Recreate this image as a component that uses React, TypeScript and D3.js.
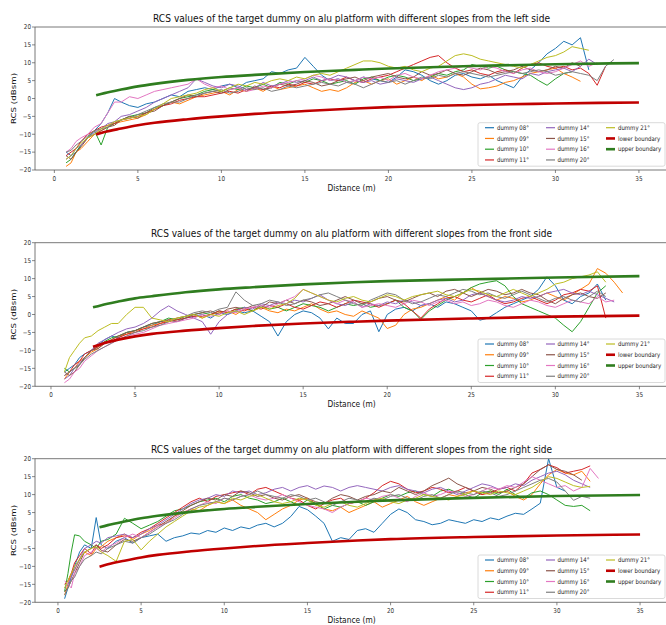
import React from "react";
import * as d3 from "d3";

// series labels and colours (matplotlib tab10 order, skipping cyan)
const names = ["dummy 08°", "dummy 09°", "dummy 10°", "dummy 11°", "dummy 14°", "dummy 15°", "dummy 16°", "dummy 20°", "dummy 21°"];
const colors = ["#1f77b4", "#ff7f0e", "#2ca02c", "#d62728", "#9467bd", "#8c564b", "#e377c2", "#7f7f7f", "#bcbd22"];
const lowerColor = "#c00000";
const upperColor = "#2f7d1f";

const xTicks = [0, 5, 10, 15, 20, 25, 30, 35];
const yTicks = [-20, -15, -10, -5, 0, 5, 10, 15, 20];

// distance samples (m)
const distSteps = [4, 4.5, 5, 5.5, 6, 6.5, 7, 7.5, 8, 8.5, 9, 9.5, 10, 10.5, 11, 11.5, 12, 12.5, 13, 13.5, 14, 14.5, 15, 15.5, 16, 16.5, 17, 17.5, 18, 18.5, 19, 19.5, 20, 20.5, 21, 21.5, 22, 22.5, 23, 23.5, 24, 24.5, 25, 25.5, 26, 26.5, 27, 27.5, 28, 28.5, 29, 29.5, 30, 30.5, 31, 31.5, 32, 32.5, 33, 33.5, 34];
const gridLeft = [0.7, 1, 1.3, 1.6, 2, 2.4, 2.8, 3.2, 3.6, ...distSteps];
const gridFront = [0.8, 1.1, 1.4, 1.7, 2, 2.4, 2.8, 3.2, 3.6, ...distSteps];
const gridRight = [0.4, 0.6, 0.8, 1, 1.3, 1.6, 2, 2.3, 2.6, 3, 3.5, ...distSteps];

// boundaries
const boundX = [2.5, 3, 4, 5, 6, 8, 10, 12, 15, 18, 20, 25, 30, 35];
const upperSide = [0.9, 1.5, 2.5, 3.4, 4.1, 5.2, 6.0, 6.6, 7.4, 8.0, 8.4, 9.1, 9.6, 9.9];
const lowerSide = [-10.1, -9.4, -8.4, -7.5, -6.8, -5.8, -5.0, -4.3, -3.5, -2.8, -2.4, -1.8, -1.4, -1.1];
const upperFront = [2.0, 2.6, 3.6, 4.5, 5.1, 6.2, 7.0, 7.6, 8.4, 9.0, 9.3, 9.8, 10.3, 10.7];
const lowerFront = [-9.0, -8.2, -7.0, -6.1, -5.4, -4.5, -3.8, -3.2, -2.5, -2.0, -1.7, -1.1, -0.6, -0.3];

// RCS (dBsm), left side
const left08 = [-15, -16, -15, -13, -11, -9, -7, -4, 0, -1, -2, -2.5, -1.5, -1, 0, 1, 0.5, 2, 2.5, 3, 2.5, 3.5, 4, 3, 4.5, 5, 5.5, 7.5, 7, 8, 8.5, 11.5, 9, 6.5, 5, 5.5, 4.5, 5, 6, 5.5, 5, 4.5, 6, 8, 7.5, 6.5, 5, 4, 5, 6.5, 7, 6, 5.5, 6.5, 5, 4, 3, 6, 8, 10, 12.5, 14, 16, 15, 17, 8];
const left09 = [-19, -18, -15, -14, -12, -10, -9, -8, -7, -6.5, -6, -5.5, -4.5, -3, -2, -1, -1.5, -0.5, 0.5, 1, 1.5, 2, 1, 2.5, 2, 3, 2, 3.5, 2.5, 3, 3.5, 4, 3, 2, 2.5, 2, 3, 4.5, 5, 4, 5, 5.5, 4, 5, 6, 5, 6.5, 5.5, 6, 7, 6, 4, 2.7, 3, 3.5, 4.5, 5, 6, 7, 7.5, 8, 8.5, 7, 6, 4.8];
const left10 = [-18, -17, -15, -13, -11, -9, -13, -8, -7, -6, -5, -4.5, -4, -2.5, -2, -1, 0, 0.5, 1, 2, 2.5, 2, 3, 2.5, 3.5, 3, 4, 3, 4.5, 4, 5, 4.5, 5.5, 5, 4, 4.5, 5, 4, 5.5, 6, 5, 6, 6.5, 6, 5, 5.5, 6, 7, 6.5, 7.5, 8, 9.5, 9, 8.5, 9, 8, 7.5, 7, 6.5, 5, 3.7, 5.5, 7, 7.5];
const left11 = [-16, -15, -14, -12, -10, -9, -8, -7.5, -7, -6, -5.5, -5, -4, -3, -2, -1.5, -0.5, 0, 0.5, 0.5, 1, 1.5, 2, 1.5, 2.5, 3, 2.5, 3.5, 3, 4, 3.5, 4.5, 4, 5, 5.5, 5, 6, 5, 4.5, 5.5, 6, 6.5, 7.5, 8.5, 9.5, 10.5, 11.5, 12, 10, 8.5, 7.5, 8, 7, 6.5, 7.5, 8, 7, 8.5, 9.5, 10, 9, 8.5, 9, 8, 8.5, 7, 3.7, 9];
const left14 = [-17, -16, -14, -13, -11, -9.5, -8.5, -7, -6.5, -5, -4.5, -3.5, -2.5, -1, 0, 1, 2, 3, 5.5, 4.5, 3.5, 3, 4, 3.5, 2.5, 3, 4.5, 3.5, 4, 5, 4.5, 5, 6, 5, 5.5, 6.5, 6, 5, 4.5, 5, 4, 4.5, 5.5, 5, 4.5, 5.5, 6, 5, 4, 3, 2.5, 3, 4, 4.5, 5.5, 6.5, 6, 5.5, 7, 6.5, 7.5, 8, 8.5, 7.5, 9, 11, 9.5];
const left15 = [-16, -17, -15, -13.5, -11, -10, -9, -8, -7.5, -6, -5, -5.5, -4, -3.5, -2, -1, 0, 1, 0.5, 1.5, 2, 1.5, 2.5, 3, 2, 3.5, 2.5, 3, 4, 3.5, 4, 5, 4.5, 3.5, 4, 5, 5.5, 6, 5, 6, 6.5, 7, 6, 5.5, 6, 7.5, 6.5, 7, 8, 7, 6.5, 7.5, 8.5, 8, 7, 7.5, 8, 9, 8, 7.5, 8, 9, 8.5, 10, 9];
const left16 = [-15, -14, -12, -11, -10, -8, -7, -4, -1, -1, 0.5, 0, 1, 2, 2.5, 3, 3.5, 4, 5.5, 4, 3, 3.5, 2.5, 3, 2, 2.5, 3.5, 3, 4, 4.5, 5, 5.5, 6.5, 6, 5, 5.5, 4.5, 5, 6, 5.5, 6, 5, 6.5, 7, 6, 5.5, 6.5, 7.5, 8, 8.5, 9, 8.5, 8, 9, 8.5, 7.5, 7, 8, 8.5, 7.5, 7, 7.5, 8.5, 9.5, 10.5, 9, 10];
const left20 = [-15, -14.5, -13, -12, -10.5, -9, -8.5, -8, -6.5, -6, -5.5, -4.5, -3.5, -2.5, -1.5, -1, -1, 0, 1, 1.5, 2, 2.5, 1.5, 2, 3, 2.5, 3, 2, 2.5, 3.5, 3, 3.5, 4, 4.5, 4, 3.5, 4.5, 4, 3, 4, 5, 4.5, 5, 4, 5, 6, 5.5, 6.5, 6, 7, 7.5, 7, 6.5, 6, 6.5, 7, 7.5, 7, 7.5, 8, 7.5, 6.5, 7, 7.5, 7, 6.5, 5, 9, 10.9];
const left21 = [-17, -16, -14, -12.5, -11, -10, -8.5, -7.5, -6.5, -6, -5.5, -5, -4.5, -3, -1.5, 0, 0.5, 1, 1.5, 2.5, 3, 2, 3, 4, 3.5, 4.5, 4, 5, 5.5, 5, 6, 5.5, 6.5, 7, 6.5, 7.5, 8.5, 9.5, 10.5, 10.5, 10, 9, 8.5, 9, 8, 7.5, 8.5, 9, 10.5, 12, 12.5, 12, 11, 10.5, 10, 9.5, 9, 8.5, 9.5, 10.5, 11.5, 12, 13, 14.5, 14, 13.5];

// RCS (dBsm), front side
const front08 = [-16, -15, -14, -12, -11, -10, -8.5, -7, -6, -6.5, -5, -4.5, -3.5, -3, -2, -1.5, -2, -1, -0.5, 0, -1, 0.5, 0, 1, 0.5, 1, -0.5, -2, -6, -2, 0, 1, 0.5, -1, -4, -1, -2.5, -2.5, 0, 1, -4.8, 0, 1.5, 2, 1, 2.5, 3, 2, 3.5, 3, 2, 1, -1.6, -1, 0.5, 2, 3, 4, 5, 7, 10.5, 8, 4, 3, 5, 6, 8.5, 4];
const front09 = [-18, -16, -15, -13, -12, -10.5, -9.5, -8, -7, -6, -5.5, -4.5, -4, -3, -2.5, -1.5, -1, -0.5, 0, -1, 0, 0.5, 1, 0, 1.5, 1, 2, 1, 0.5, 1.5, 1, 2, 3, 1.5, 0.5, 1, 0, -0.5, 1, 0, -1, -3.9, -3, 0, 1.5, 2, 3, 4, 5, 4, 6, 7.5, 6, 5, 4, 5, 4.5, 3.5, 4, 5, 6, 5, 4, 5.5, 7, 8.5, 12.8, 11.5, 9, 6];
const front10 = [-15, -16, -15, -14, -12, -10, -9, -7.5, -6.5, -6, -5, -4.5, -3.5, -2.5, -2, -1, -1.5, -0.5, 0, 0.5, 0, 1, 0.5, 1.5, 2, 1, 2.5, 1.5, 2, 1, 2, 3, 2.5, 2, 1, 2, 3, 2.5, 3, 2, 2.5, 3, 4, 2, 1, -1.4, 1, 2.5, 4, 5, 6, 7.5, 8.5, 9, 9.4, 8, 5, 3, 2, 1, 0, -1, -3, -4.8, -2, 2, 6, 8];
const front11 = [-17, -16, -14, -13, -11, -10, -9, -8, -7.5, -6.5, -5.5, -5, -4, -3.5, -2.5, -2, -1.5, -1, -0.5, -0.5, 0, 1, 0.5, 1.5, 1, 2, 1.5, 2.5, 2, 3, 2, 1.5, 2.5, 3.5, 3, 2, 3, 4, 3.5, 3, 2, 3, 4, 3, 1, -1, 1.5, 3, 4.5, 5, 4, 3.5, 4.5, 5.5, 4, 3, 3.5, 4.5, 5, 4, 3, 4, 5.5, 6, 7, 6.5, 8, -1];
const front14 = [-18, -17, -15, -13.5, -12, -10, -8, -7, -6, -5, -4, -3.5, -2.5, -1, 1, 2.4, 1, 0, -1, -2, -5.5, -2, 0, 1, 2, 1.5, 3, 2.5, 3.5, 3, 4, 3.5, 4.5, 5.5, 4, 3, 2.5, 3.5, 2, 3, 2.5, 3.5, 3, 4, 3.5, 2.5, 3, 4, 4.5, 3.5, 4, 5.5, 6, 5, 4, 3.5, 4, 5, 4.5, 5, 6, 6.5, 7, 6, 5.5, 6.5, 5.5, 4.5, 3.5];
const front15 = [-16, -17, -16, -14, -12, -10, -9.5, -8, -7, -6, -5, -4.5, -3.5, -2.5, -2, -1.5, -2, -1, 0, 0.5, 1, 0, 1.5, 2, 1.5, 2.5, 2, 3.5, 3, 4, 3, 4, 3.5, 2.5, 3, 4, 5, 4, 3, 3.5, 4.5, 5, 4, 3.5, 4.5, 5.5, 6, 5, 6.5, 7, 6, 5, 6, 7, 6.5, 5.5, 6, 7, 6, 5.5, 4, 3, 4.5, 5.5, 6, 5, 4.5, 6];
const front16 = [-19, -18, -16, -15, -13, -11.5, -10, -9, -8, -7, -6, -5.5, -5, -4, -3, -2.5, -2, -1.5, -1, 0, -0.5, 0, 1, 0.5, 1.5, 2, 2.5, 2, 3, 4, 5, 7, 6, 5, 4, 3, 4, 3.5, 2, 2.5, 3, 2.5, 2, 3, 4, 3.5, 2.5, 3.5, 4, 3, 3.5, 2.5, 3, 4, 3.5, 2.5, 2, 3, 4, 3.5, 2.5, 2, 3, 4, 3.5, 3, 5, 3.5, 4];
const front20 = [-17, -16, -15, -14, -12.5, -11, -10, -9, -8, -7, -6, -5, -4.5, -3.5, -3, -2, -1, -0.5, 0.5, 1, 0.5, 1.5, 2, 6.3, 4, 2.5, 3, 4, 3.5, 2.5, 3, 4, 4.5, 5.5, 6, 5, 4, 3, 2.5, 4, 5, 6, 5.5, 4, 3, 3.5, 4.5, 5.5, 5, 6, 7, 6.5, 5.5, 6, 5, 4.5, 5.5, 6.5, 5.5, 4.5, 3.5, 4.5, 5, 4, 3.5, 5, 6.5, 5];
const front21 = [-16, -12, -10, -8, -6.5, -6, -4.5, -3.5, -2.5, -2.5, 0, 2, 2, -1, -1.5, -2, -1, -0.5, 0, -1, 0, -0.5, 0.5, 1, 0, 1, 2, 1.5, 2.5, 3, 4.5, 7, 6, 5, 4, 3.5, 4.5, 5, 4, 3.5, 4.5, 5.5, 5, 4, 5, 5.5, 6, 6.5, 5.5, 5, 6, 7, 6.5, 5.5, 5, 6, 7, 6, 5, 6, 7, 8.5, 9, 10, 10.5, 11, 11.9, 9];

// RCS (dBsm), right side
const right08 = [-19, -16, -13, -10, -6, -4, -5, 3.6, -4, -5, -3, -2, -3.5, -2, -1.5, -1, -3, -2, -1.5, -0.7, -1, 0, -0.5, 0.7, 0, 1, 0.5, 1.5, 2, 1, 2, 3.9, 6.7, 5.8, 4, 2, -3, -2, -2.5, 0, 0.5, -0.5, 2, 4.5, 6, 5, 3, 2.5, 1.6, 2, 3, 2.5, 2, 3, 2.5, 3.5, 3, 4, 4.8, 4.5, 6, 7.6, 20, 12, 11];
const right09 = [-18, -15, -12, -11, -8, -6, -7, -5, -4.5, -3, -2, -1, -2.5, -1, 0, 1.5, 2, 4, 5, 6, 5.5, 7, 8, 7.5, 8.5, 7, 6, 5, 3, 4.5, 6, 7, 8.5, 9, 7.5, 6, 5.5, 6.5, 5, 6, 7, 8, 6.5, 7.5, 8.5, 9.5, 8, 7, 8, 9, 10, 9.5, 10.5, 11, 10, 11, 10.5, 11, 9.5, 8.5, 10, 13, 15.5, 17, 16, 15.5, 16.5, 13.7];
const right10 = [-17, -12, -6, -1.2, -1.5, -3, -4, -5, -3, -2.5, -1, 3.4, 2, 0.5, 1.5, 2.5, 4, 5.5, 6, 7, 8, 8.5, 9, 8, 9.5, 10, 9, 8.5, 7.5, 8, 9, 8, 7, 8.5, 7.5, 6, 7, 6.5, 7.5, 8, 7, 8, 9, 10, 9.5, 10.5, 11, 10, 9.5, 11, 11.5, 10.5, 10, 9, 10.5, 11, 10, 11.5, 10, 9, 10.5, 11, 10, 8.5, 7, 6.7, 7, 5.5];
const right11 = [-15, -14, -12, -9, -7, -5, -6.5, -4, -5, -4, -2, -1.5, -2, -0.5, 0.5, 2, 3.5, 5, 6.5, 8, 9, 8, 9.5, 10, 10.5, 11, 10, 11.5, 12, 11, 10, 9, 8.5, 7, 6, 7.5, 8.5, 9, 7.5, 8, 9, 10.5, 12.5, 13.7, 13, 11.5, 10.5, 11, 12, 11.5, 10.5, 11, 12, 11, 10, 10.5, 11.5, 12, 11, 13, 16, 17, 18.3, 17.5, 16, 16.5, 17, 18];
const right14 = [-16, -15, -13, -11, -8, -5, -4, -3, -3.5, -2, -1.5, -1, -2, -1, 0.5, 1.5, 3, 4.5, 6, 7.5, 8.5, 9, 10, 9.5, 11, 10.5, 11, 10, 10.5, 11.5, 12, 11, 12, 12.5, 11.5, 12.4, 12, 11, 12, 12.5, 12, 11.5, 11, 12, 12.5, 11.5, 11, 10.5, 11.5, 12, 11, 10, 11, 12, 13, 12.5, 11.5, 12, 13, 12.5, 14, 15, 16, 16.5, 15.5, 14, 13, 12];
const right15 = [-17, -16, -14, -12, -9, -6, -5, -4, -5.5, -6, -4, -2.5, -3, -2, -0.5, 1, 2.5, 4, 5.5, 7, 8, 9, 8.5, 10, 9.5, 11, 10.5, 9.5, 10, 9, 8.5, 9.5, 10, 9, 8, 7.5, 9, 10, 9.5, 8.5, 9.5, 10, 11, 10.5, 12, 11, 10, 11, 12.5, 13.5, 14.6, 13, 12, 11, 12, 11.5, 10.5, 11, 12, 13, 15, 17, 18.3, 17, 16.5, 15.5, 14];
const right16 = [-14, -15, -16, -12, -10, -7, -6, -5, -6, -4.5, -3.5, -2, -1, -2, -0.5, 1, 2, 3.5, 5, 6, 7, 8, 7.5, 9, 8.5, 9.5, 10, 9, 8.5, 9, 10, 9, 8, 7, 6.5, 6, 5, 6.5, 7.5, 8, 9, 8.5, 9.5, 10, 9, 8, 9.5, 10.5, 9.5, 10, 11, 10.5, 9.5, 10, 11, 12, 11.5, 12.5, 12, 13.5, 15, 14, 13, 12, 12.5, 11, 12, 17.3, 14.5];
const right20 = [-18, -16, -14, -13, -10, -8, -7, -6, -6.5, -5, -4, -3, -3.5, -2, -1, 0.5, 2, 3, 4.5, 6, 7, 7.5, 8, 9, 8.5, 9.5, 10, 11, 10, 9.5, 9, 10, 9.5, 8.5, 9, 8, 7, 8, 9, 8.5, 8, 9, 8.5, 9.5, 10, 9, 8.5, 9.5, 10, 9, 10, 11, 10.5, 10, 11, 10.5, 9.5, 10, 11, 12, 13, 14, 14.5, 13.5, 11, 8.4, 9.5, 9];
const right21 = [-16, -14, -12, -10, -8, -6, -5, -4.5, -6, -7, -8.6, -3, -2.5, -5.4, -3, -1, 1, 2.5, 4, 5.5, 6.5, 7, 8, 7.5, 9, 8.5, 9.5, 10, 9, 8, 7.5, 8, 9, 8.5, 7, 6.5, 7.5, 8, 7, 6.5, 7.5, 8.5, 9, 8, 7.5, 8.5, 9, 10, 9.5, 9, 8.5, 9.5, 10, 11, 10.5, 10, 11, 10.5, 10, 11, 12, 13.5, 15, 14.5, 13.5, 12.5, 12, 12.3];

type PanelDef = {
  title: string;
  titleLen: number;
  top: number;
  bottom: number;
  xDomain: [number, number];
  grid: number[];
  series: number[][];
  lower: number[];
  upper: number[];
};

const panels: PanelDef[] = [
  {
    title: "RCS values of the target dummy on alu platform with different slopes from the left side",
    titleLen: 397,
    top: 27,
    bottom: 170,
    xDomain: [-1.16, 36.8],
    grid: gridLeft,
    series: [left08, left09, left10, left11, left14, left15, left16, left20, left21],
    lower: lowerSide,
    upper: upperSide,
  },
  {
    title: "RCS values of the target dummy on alu platform with different slopes from the front side",
    titleLen: 401,
    top: 242.7,
    bottom: 386.3,
    xDomain: [-0.95, 36.76],
    grid: gridFront,
    series: [front08, front09, front10, front11, front14, front15, front16, front20, front21],
    lower: lowerFront,
    upper: upperFront,
  },
  {
    title: "RCS values of the target dummy on alu platform with different slopes from the right side",
    titleLen: 401,
    top: 458.7,
    bottom: 602.3,
    xDomain: [-1.38, 36.74],
    grid: gridRight,
    series: [right08, right09, right10, right11, right14, right15, right16, right20, right21],
    lower: lowerSide,
    upper: upperSide,
  },
];

const X0 = 35;
const X1 = 669;
const FONT = "DejaVu Sans";
const SQ = 0.86; // the figure is squeezed horizontally

const fmt = (v: number) => (v < 0 ? "\u2212" + Math.abs(v) : String(v));

const legendItems = [
  ...names.map((n, i) => ({ label: n, color: colors[i], w: 1.2 })),
  { label: "lower boundary", color: lowerColor, w: 2.6 },
  { label: "upper boundary", color: upperColor, w: 2.6 },
];

function Panel({ p, idx }: { p: PanelDef; idx: number }) {
  const x = d3.scaleLinear().domain(p.xDomain).range([X0, X1]);
  const y = d3.scaleLinear().domain([-20, 20]).range([p.bottom, p.top]);
  const line = d3
    .line<[number, number]>()
    .x((d) => x(d[0]))
    .y((d) => y(d[1]));
  const smooth = d3
    .line<[number, number]>()
    .x((d) => x(d[0]))
    .y((d) => y(d[1]))
    .curve(d3.curveMonotoneX);
  const clipId = `clip${idx}`;
  const midX = 351.5;
  const midY = (p.top + p.bottom) / 2;

  const legTop = p.bottom - 3.8 - 43.5;
  const colX = [485, 546, 606];
  const textX = [497, 557.5, 618];

  return (
    <g>
      <defs>
        <clipPath id={clipId}>
          <rect x={X0} y={p.top} width={X1 - X0} height={p.bottom - p.top} />
        </clipPath>
      </defs>
      <text
        x={midX}
        y={p.top - 5.5}
        textAnchor="middle"
        fontFamily={FONT}
        fontSize={10.5}
        fill="#111"
        textLength={p.titleLen}
        lengthAdjust="spacingAndGlyphs"
      >
        {p.title}
      </text>

      <g clipPath={`url(#${clipId})`}>
        {p.series.map((s, i) => (
          <path
            key={i}
            d={line(s.map((v, j) => [p.grid[j], v] as [number, number])) || ""}
            fill="none"
            stroke={colors[i]}
            strokeWidth={1}
            strokeLinejoin="round"
          />
        ))}
        <path
          d={smooth(p.lower.map((v, j) => [boundX[j], v] as [number, number])) || ""}
          fill="none"
          stroke={lowerColor}
          strokeWidth={2.6}
        />
        <path
          d={smooth(p.upper.map((v, j) => [boundX[j], v] as [number, number])) || ""}
          fill="none"
          stroke={upperColor}
          strokeWidth={2.6}
        />
      </g>

      {/* spines */}
      <line x1={X0} x2={X1} y1={p.top} y2={p.top} stroke="#555" strokeWidth={0.8} />
      <line x1={X0} x2={X1} y1={p.bottom} y2={p.bottom} stroke="#555" strokeWidth={0.8} />
      <line x1={X0} x2={X0} y1={p.top} y2={p.bottom} stroke="#555" strokeWidth={0.8} />

      {yTicks.map((t) => (
        <g key={t}>
          <line x1={X0 - 3} x2={X0} y1={y(t)} y2={y(t)} stroke="#555" strokeWidth={0.7} />
          <text
            transform={`translate(${X0 - 4},${y(t) + 2.3}) scale(${SQ},1)`}
            textAnchor="end"
            fontFamily={FONT}
            fontSize={6.6}
            fill="#333"
          >
            {fmt(t)}
          </text>
        </g>
      ))}
      {xTicks.map((t) => (
        <g key={t}>
          <line x1={x(t)} x2={x(t)} y1={p.bottom} y2={p.bottom + 3} stroke="#555" strokeWidth={0.7} />
          <text
            transform={`translate(${x(t)},${p.bottom + 11}) scale(${SQ},1)`}
            textAnchor="middle"
            fontFamily={FONT}
            fontSize={6.6}
            fill="#333"
          >
            {t}
          </text>
        </g>
      ))}

      <text
        transform={`translate(${midX},${p.bottom + 21}) scale(${SQ},1)`}
        textAnchor="middle"
        fontFamily={FONT}
        fontSize={8.7}
        fill="#111"
      >
        Distance (m)
      </text>
      <text
        transform={`translate(16,${midY}) rotate(-90) scale(1,${SQ})`}
        textAnchor="middle"
        fontFamily={FONT}
        fontSize={8.7}
        fill="#111"
      >
        RCS (dBsm)
      </text>

      {/* legend */}
      <rect
        x={478}
        y={legTop}
        width={187}
        height={43.5}
        rx={2}
        fill="#fff"
        fillOpacity={0.85}
        stroke="#d0d0d0"
        strokeWidth={0.8}
      />
      {legendItems.map((it, k) => {
        const col = Math.floor(k / 4);
        const row = k % 4;
        const ly = legTop + 5 + row * 10.75;
        return (
          <g key={it.label}>
            <line x1={colX[col]} x2={colX[col] + 9} y1={ly} y2={ly} stroke={it.color} strokeWidth={it.w} />
            <text
              transform={`translate(${textX[col]},${ly + 2.2}) scale(${SQ},1)`}
              fontFamily={FONT}
              fontSize={6.3}
              fill="#222"
            >
              {it.label}
            </text>
          </g>
        );
      })}
    </g>
  );
}

export default function App() {
  return (
    <svg
      width={666}
      height={625}
      viewBox="0 0 666 625"
      style={{ position: "absolute", left: 0, top: 0, background: "#fff" }}
    >
      <rect width={666} height={625} fill="#fff" />
      {panels.map((p, i) => (
        <Panel key={i} p={p} idx={i} />
      ))}
    </svg>
  );
}
